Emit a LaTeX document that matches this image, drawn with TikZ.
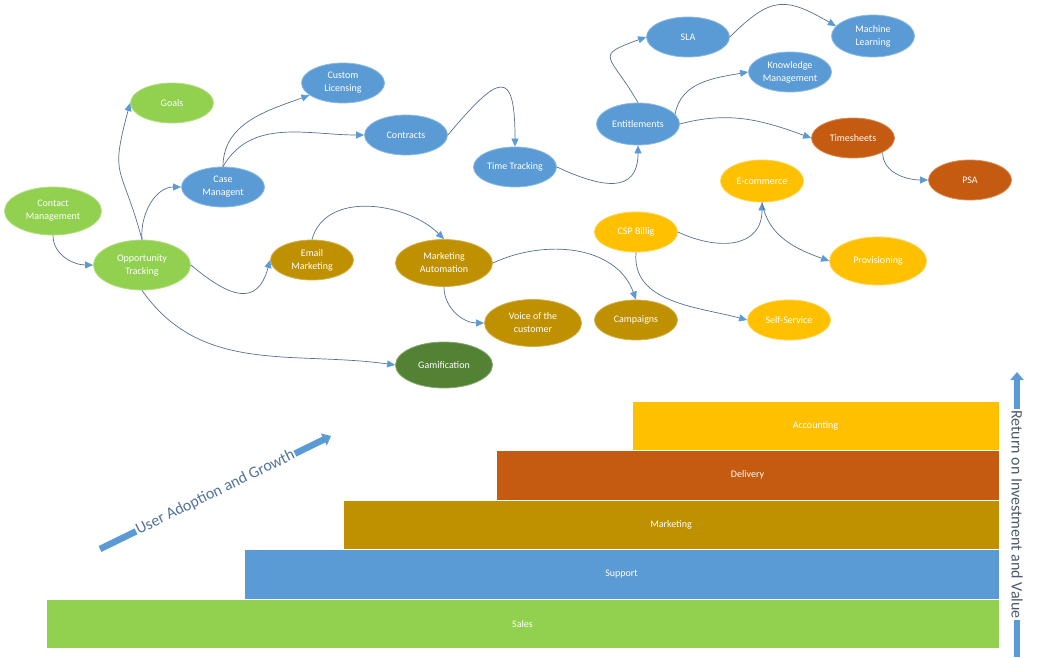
\documentclass[tikz,border=0pt]{standalone}
\usepackage{fontspec}
\setmainfont{Carlito}
\usepackage{xcolor}
\usepackage{tikz}
\usetikzlibrary{arrows.meta,positioning,shapes.geometric}

\definecolor{crmgreen}{HTML}{92D050}
\definecolor{crmblue}{HTML}{5B9BD5}
\definecolor{crmgold}{HTML}{BF9000}
\definecolor{crmrust}{HTML}{C55A11}
\definecolor{crmyellow}{HTML}{FFC000}
\definecolor{crmdkgreen}{HTML}{548235}
\definecolor{edgeline}{HTML}{56708F}
\definecolor{diagtext}{HTML}{52739B}
\definecolor{roitext}{HTML}{4D5A6B}

\begin{document}
\begin{tikzpicture}[
    x=1pt,y=1pt,
    font=\fontsize{10}{13}\selectfont,
    stage/.style={ellipse,inner sep=0pt,minimum width=83pt,minimum height=40pt,text=white,align=center,line width=0.8pt},
    stagebig/.style={stage,minimum width=97pt,minimum height=48pt},
    arr/.style={-{Triangle[length=8pt,width=7pt,color=crmblue]},draw=edgeline,line width=0.7pt},
    bigarr/.style={draw=crmblue,line width=6.5pt},
    bar/.style={rectangle,inner sep=0pt,outer sep=0pt,minimum height=49.5pt,text=white,draw=white,line width=0.8pt}
]
\useasboundingbox (0,0) rectangle (1038,-658);

% sales stages
\node[stagebig,fill=crmgreen,draw=crmgreen!70!white] (contact) at (53,-211) {Contact\\Management};
\node[stagebig,fill=crmgreen,draw=crmgreen!70!white,minimum height=50pt] (opp) at (142,-265) {Opportunity\\Tracking};
\node[stage,fill=crmgreen,draw=crmgreen!70!white] (goals) at (172,-103) {Goals};

% support stages
\node[stage,fill=crmblue,draw=crmblue!70!white] (case) at (223,-187) {Case\\Managent};
\node[stage,fill=crmblue,draw=crmblue!70!white] (cust) at (343,-83) {Custom\\Licensing};
\node[stage,fill=crmblue,draw=crmblue!70!white] (contracts) at (406,-135) {Contracts};
\node[stage,fill=crmblue,draw=crmblue!70!white] (timetr) at (515,-167) {Time Tracking};
\node[stage,fill=crmblue,draw=crmblue!70!white,minimum height=42pt] (entitle) at (638,-124) {Entitlements};
\node[stage,fill=crmblue,draw=crmblue!70!white] (sla) at (688,-37) {SLA};
\node[stage,fill=crmblue,draw=crmblue!70!white,minimum height=42pt] (ml) at (873,-36) {Machine\\Learning};
\node[stage,fill=crmblue,draw=crmblue!70!white] (km) at (790,-72) {Knowledge\\Management};

% delivery stages
\node[stage,fill=crmrust,draw=crmrust!70!white] (timesh) at (853,-138) {Timesheets};
\node[stage,fill=crmrust,draw=crmrust!70!white] (psa) at (970,-180) {PSA};

% accounting stages
\node[stage,fill=crmyellow,draw=crmyellow!70!white,minimum height=42pt] (ecom) at (762,-181) {E-commerce};
\node[stage,fill=crmyellow,draw=crmyellow!70!white] (csp) at (636,-232) {CSP Billig};
\node[stagebig,fill=crmyellow,draw=crmyellow!70!white] (prov) at (878,-261) {Provisioning};
\node[stage,fill=crmyellow,draw=crmyellow!70!white] (self) at (789,-320) {Self-Service};

% marketing stages
\node[stage,fill=crmgold,draw=crmgold!70!white] (email) at (312,-260) {Email\\Marketing};
\node[stagebig,fill=crmgold,draw=crmgold!70!white,minimum height=47pt] (mauto) at (444,-263) {Marketing\\Automation};
\node[stagebig,fill=crmgold,draw=crmgold!70!white,minimum height=47pt] (voice) at (533,-323) {Voice of the\\customer};
\node[stage,fill=crmgold,draw=crmgold!70!white] (camp) at (636,-320) {Campaigns};
\node[stagebig,fill=crmdkgreen,draw=crmdkgreen!70!white,minimum height=46pt] (gam) at (444,-365) {Gamification};

\draw[arr] (contact.south) to[out=-90,in=180] (opp.west);
\draw[arr] (opp.north) to[out=105,in=-105,looseness=1.5] (goals.west);
\draw[arr] (opp.north) to[out=95,in=180] (case.west);
\draw[arr] (opp.east) to[out=-40,in=-105,looseness=1.6] (email.west);
\draw[arr] (opp.south) to[out=-55,in=172] (gam.west);
\draw[arr] (case.north) to[out=90,in=200] (cust.200);
\draw[arr] (case.north) to[out=60,in=180] (contracts.west);
\draw[arr] (contracts.east) to[out=50,in=90,looseness=3] (timetr.north);
\draw[arr] (timetr.east) to[out=-25,in=-90,looseness=1.5] (entitle.south);
\draw[arr] (entitle.north) to[out=120,in=200,looseness=2.2] (sla.west);
\draw[arr] (sla.east) to[out=45,in=150,looseness=1.4] (ml.165);
\draw[arr] (entitle.15) to[out=80,in=190] (km.west);
\draw[arr] (entitle.east) to[out=15,in=160] (timesh.west);
\draw[arr] (timesh.south east) to[out=-90,in=180] (psa.west);
\draw[arr] (csp.east) to[out=-25,in=-90,looseness=1.3] (ecom.south);
\draw[arr] (ecom.south) to[out=-80,in=160] (prov.west);
\draw[arr] (csp.south) to[out=-95,in=165] (self.west);
\draw[arr] (mauto.east) to[out=25,in=110] (camp.north);
\draw[arr] (mauto.south) to[out=-90,in=180] (voice.west);
\draw[arr] (email.north) to[out=75,in=135] (mauto.north);

% value staircase
\node[bar,fill=crmyellow,minimum width=367pt,anchor=north east] (acct) at (999,-401) {Accounting};
\node[bar,fill=crmrust,minimum width=503pt,anchor=north east] (deliv) at (acct.south east) {Delivery};
\node[bar,fill=crmgold,minimum width=656pt,anchor=north east] (mktg) at (deliv.south east) {Marketing};
\node[bar,fill=crmblue,minimum width=755pt,anchor=north east] (supp) at (mktg.south east) {Support};
\node[bar,fill=crmgreen,minimum width=953pt,anchor=north east] (sales) at (supp.south east) {Sales};

% axes
\coordinate (uaStart) at (100,-549);
\coordinate (uaEnd) at (331,-436);
\draw[bigarr,-{Triangle[length=8pt,width=13pt]}] (uaStart) -- node[sloped,fill=white,inner sep=1pt,text=diagtext,font=\fontsize{16}{18}\selectfont] (uatext) {User Adoption and Growth} (uaEnd);
\coordinate (roiTop) at (1017,-372);
\coordinate (roiBot) at (1017,-657);
\draw[bigarr,{Triangle[length=8pt,width=13pt]}-] (roiTop) -- node[sloped,fill=white,inner sep=1pt,text=roitext,font=\fontsize{16}{18}\selectfont] (roilabel) {Return on Investment and Value} (roiBot);
\end{tikzpicture}
\end{document}
